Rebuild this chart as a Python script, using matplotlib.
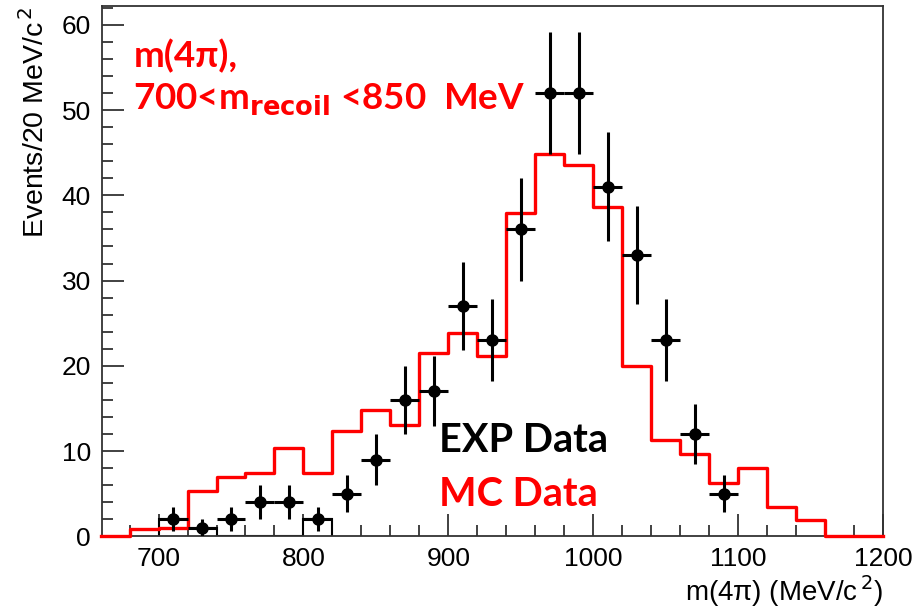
import numpy as np
import matplotlib
matplotlib.use("Agg")
import matplotlib.pyplot as plt
from matplotlib.ticker import MultipleLocator

# ==============================
# data
# ==============================

# MC histogram, 20 MeV bins from 660 to 1200
mc_edges = np.arange(660, 1201, 20)
mc_counts = [0, 0.8, 1.0, 5.3, 6.9, 7.4, 10.4, 7.4, 12.4, 14.8, 13.1, 21.5, 23.8,
             21.1, 37.9, 44.8, 43.6, 38.6, 20.0, 11.3, 9.7, 6.3, 8.0, 3.4, 1.9, 0, 0]

# EXP data points (bin centres)
exp_x = [710, 730, 750, 770, 790, 810, 830, 850, 870, 890,
         910, 930, 950, 970, 990, 1010, 1030, 1050, 1070, 1090]
exp_y = [2, 1, 2, 4, 4, 2, 5, 9, 16, 17,
         27, 23, 36, 52, 52, 41, 33, 23, 12, 5]
exp_err = [1.4, 1.0, 1.4, 2.0, 2.0, 1.4, 2.2, 3.0, 4.0, 4.1,
           5.2, 4.8, 6.0, 7.2, 7.2, 6.4, 5.7, 4.8, 3.5, 2.2]

# small black outline histogram visible at low mass
bk_edges = [700, 720, 740, 760, 780, 800, 820]
bk_counts = [2, 1, 0, 0, 0, 2]

# ==============================
# plot
# ==============================
fig = plt.figure(figsize=(9.16, 6.09), dpi=100)
ax = fig.add_axes([0.1114, 0.1194, 0.8526, 0.8706])

ax.stairs(bk_counts, bk_edges, color="black", lw=1.5, zorder=2)
# red MC outline, also running along the zero line
ax.plot(mc_edges, mc_counts + [mc_counts[-1]], drawstyle="steps-post",
        color="red", lw=2.4, zorder=5, clip_on=False)
ax.errorbar(exp_x, exp_y, yerr=exp_err, xerr=10, fmt="o", color="black",
            ms=8, elinewidth=2.2, capsize=0, zorder=6)

ax.set_xlim(661, 1200)
ax.set_ylim(0, 62.2)

ax.xaxis.set_major_locator(MultipleLocator(100))
ax.xaxis.set_minor_locator(MultipleLocator(20))
ax.yaxis.set_major_locator(MultipleLocator(10))
ax.yaxis.set_minor_locator(MultipleLocator(2))
ax.tick_params(which="both", direction="in", top=False, right=False,
               width=1.3, color="#333333", labelsize=19, pad=8)
ax.tick_params(which="major", length=16)
ax.tick_params(which="minor", length=8)
for s in ax.spines.values():
    s.set_linewidth(1.3)
    s.set_color("#333333")

for lab in ax.get_xticklabels() + ax.get_yticklabels():
    lab.set_family("Liberation Sans")

ax.set_xlabel("m(4\u03c0) (MeV/c$^{\\,2}$)", fontsize=20, family="Liberation Sans",
              loc="right", labelpad=1)
ax.set_ylabel("Events/20 MeV/c$^{\\,2}$", fontsize=20.5, family="Liberation Sans",
              loc="top", labelpad=8)

# annotations
ax.text(0.04, 0.905, "m(4\u03c0),", transform=ax.transAxes, color="red",
        fontsize=26.5, fontweight="bold", family="Lato", va="center")
ax.text(0.04, 0.825, r"700<m$_{\mathbf{recoil}}$ <850  MeV", transform=ax.transAxes,
        color="red", fontsize=26.5, fontweight="bold", family="Lato", va="center")
ax.text(0.4315, 0.18, "EXP Data", transform=ax.transAxes, color="black",
        fontsize=28.5, fontweight="bold", family="Lato", va="center")
ax.text(0.4315, 0.078, "MC Data", transform=ax.transAxes, color="red",
        fontsize=28.5, fontweight="bold", family="Lato", va="center")

plt.savefig("out.png", dpi=100)
